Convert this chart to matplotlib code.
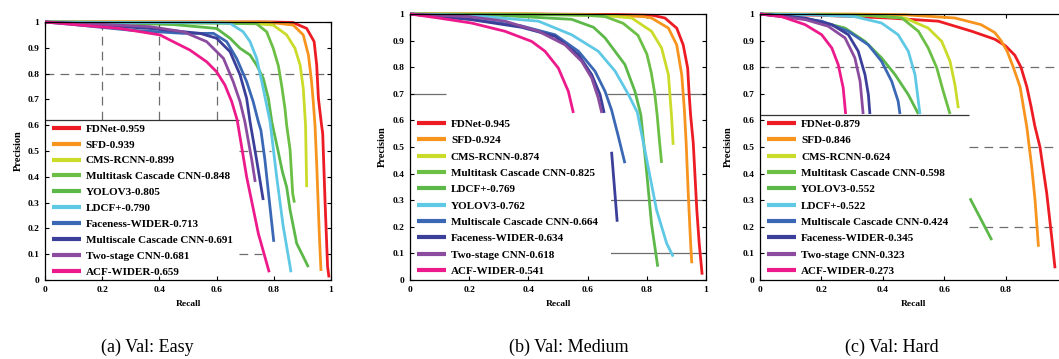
import numpy as np
import matplotlib
matplotlib.use('Agg')
import matplotlib.pyplot as plt
from matplotlib.patches import Rectangle

plt.rcParams['font.family'] = ['Liberation Serif', 'DejaVu Serif']
plt.rcParams['font.weight'] = 'bold'

# colour by rank in the legend (same for all three panels)
colors = ['#ed1c24', '#f7941d', '#cbdb2a', '#6cbf45', '#5cb848',
          '#5ec8e5', '#3b68b4', '#3b3f99', '#8b4b9f', '#ec1a8b']

# ---------------- (a) Val: Easy ----------------
easy_names = ['FDNet-0.959', 'SFD-0.939', 'CMS-RCNN-0.899', 'Multitask Cascade CNN-0.848',
              'YOLOV3-0.805', 'LDCF+-0.790', 'Faceness-WIDER-0.713',
              'Multiscale Cascade CNN-0.691', 'Two-stage CNN-0.681', 'ACF-WIDER-0.659']
easy_recall = [
    [0, 0.3, 0.6, 0.8, 0.867, 0.915, 0.941, 0.95, 0.956, 0.967, 0.971, 0.979, 0.988, 0.993],
    [0, 0.4, 0.7, 0.775, 0.868, 0.903, 0.921, 0.932, 0.938, 0.944, 0.950, 0.959, 0.965],
    [0, 0.3, 0.6, 0.72, 0.798, 0.845, 0.874, 0.892, 0.903, 0.911, 0.915],
    [0, 0.3, 0.6, 0.74, 0.775, 0.798, 0.816, 0.828, 0.839, 0.845, 0.857, 0.866, 0.872],
    [0, 0.2, 0.45, 0.60, 0.647, 0.682, 0.717, 0.74, 0.763, 0.781, 0.793, 0.815, 0.83, 0.845, 0.857, 0.88, 0.921],
    [0, 0.3, 0.577, 0.647, 0.693, 0.717, 0.74, 0.758, 0.775, 0.787, 0.81, 0.833, 0.857, 0.86],
    [0, 0.1, 0.3, 0.484, 0.589, 0.635, 0.67, 0.705, 0.728, 0.746, 0.755, 0.769, 0.785, 0.80],
    [0, 0.15, 0.367, 0.542, 0.60, 0.647, 0.682, 0.705, 0.717, 0.74, 0.763],
    [0, 0.216, 0.367, 0.484, 0.565, 0.624, 0.658, 0.682, 0.699, 0.723, 0.735],
    [0, 0.122, 0.262, 0.402, 0.437, 0.507, 0.565, 0.60, 0.629, 0.653, 0.672, 0.705, 0.746, 0.784],
]
easy_prec = [
    [1, 1, 1, 1, 0.998, 0.975, 0.924, 0.833, 0.704, 0.60, 0.568, 0.31, 0.052, 0.01],
    [1, 1, 1, 1, 0.988, 0.95, 0.872, 0.769, 0.691, 0.60, 0.45, 0.18, 0.035],
    [1, 1, 0.998, 0.995, 0.988, 0.95, 0.898, 0.833, 0.743, 0.60, 0.36],
    [1, 0.998, 0.995, 0.993, 0.962, 0.898, 0.83, 0.75, 0.665, 0.60, 0.504, 0.336, 0.30],
    [1, 0.998, 0.99, 0.975, 0.937, 0.898, 0.872, 0.833, 0.782, 0.704, 0.613, 0.50, 0.42, 0.36, 0.271, 0.142, 0.05],
    [1, 0.998, 0.998, 0.995, 0.962, 0.924, 0.859, 0.769, 0.678, 0.613, 0.40, 0.207, 0.052, 0.03],
    [1, 0.99, 0.968, 0.956, 0.956, 0.924, 0.859, 0.769, 0.691, 0.613, 0.58, 0.465, 0.30, 0.148],
    [1, 0.99, 0.975, 0.956, 0.937, 0.885, 0.795, 0.704, 0.613, 0.465, 0.31],
    [1, 0.99, 0.982, 0.962, 0.924, 0.859, 0.769, 0.691, 0.613, 0.465, 0.38],
    [1, 0.988, 0.975, 0.95, 0.93, 0.891, 0.846, 0.807, 0.756, 0.691, 0.62, 0.40, 0.18, 0.03],
]

# ---------------- (b) Val: Medium ----------------
medium_names = ['FDNet-0.945', 'SFD-0.924', 'CMS-RCNN-0.874', 'Multitask Cascade CNN-0.825',
                'LDCF+-0.769', 'YOLOV3-0.762', 'Multiscale Cascade CNN-0.664',
                'Faceness-WIDER-0.634', 'Two-stage CNN-0.618', 'ACF-WIDER-0.541']
medium_recall = [
    [0, 0.4, 0.7, 0.82, 0.861, 0.901, 0.923, 0.938, 0.943, 0.948, 0.957, 0.963, 0.969, 0.977, 0.987],
    [0, 0.4, 0.7, 0.79, 0.816, 0.873, 0.901, 0.918, 0.927, 0.933, 0.94, 0.948, 0.952],
    [0, 0.4, 0.65, 0.749, 0.816, 0.85, 0.873, 0.884, 0.889],
    [0, 0.4, 0.6, 0.66, 0.72, 0.77, 0.80, 0.815, 0.827, 0.835, 0.843, 0.85],
    [0, 0.3, 0.546, 0.62, 0.659, 0.726, 0.76, 0.78, 0.80, 0.816, 0.837],
    [0, 0.2, 0.434, 0.546, 0.636, 0.693, 0.738, 0.768, 0.80, 0.833, 0.867, 0.889],
    [0, 0.208, 0.377, 0.49, 0.569, 0.625, 0.659, 0.681, 0.704, 0.726],
    [0, 0.2, 0.377, 0.49, 0.569, 0.614, 0.642, 0.656, np.nan, 0.681, 0.70],
    [0, 0.2, 0.321, 0.434, 0.524, 0.58, 0.614, 0.636, 0.648],
    [0, 0.096, 0.208, 0.321, 0.411, 0.456, 0.501, 0.535, 0.552],
]
medium_prec = [
    [1, 1, 0.998, 0.995, 0.985, 0.947, 0.884, 0.797, 0.70, 0.62, 0.514, 0.388, 0.263, 0.138, 0.02],
    [1, 1, 0.995, 0.99, 0.985, 0.947, 0.884, 0.772, 0.64, 0.514, 0.326, 0.138, 0.063],
    [1, 1, 0.995, 0.985, 0.935, 0.872, 0.772, 0.609, 0.508],
    [1, 0.998, 0.995, 0.99, 0.965, 0.92, 0.85, 0.78, 0.70, 0.62, 0.52, 0.44],
    [1, 0.995, 0.98, 0.95, 0.91, 0.81, 0.709, 0.62, 0.40, 0.21, 0.05],
    [1, 0.995, 0.973, 0.922, 0.86, 0.785, 0.697, 0.63, 0.451, 0.263, 0.138, 0.088],
    [1, 0.98, 0.955, 0.922, 0.86, 0.785, 0.709, 0.639, 0.539, 0.439],
    [1, 0.98, 0.95, 0.916, 0.847, 0.772, 0.697, 0.628, np.nan, 0.482, 0.219],
    [1, 0.99, 0.973, 0.935, 0.884, 0.822, 0.759, 0.684, 0.628],
    [1, 0.985, 0.966, 0.935, 0.897, 0.86, 0.797, 0.709, 0.628],
]

# ---------------- (c) Val: Hard ----------------
hard_names = ['FDNet-0.879', 'SFD-0.846', 'CMS-RCNN-0.624', 'Multitask Cascade CNN-0.598',
              'YOLOV3-0.552', 'LDCF+-0.522', 'Multiscale Cascade CNN-0.424',
              'Faceness-WIDER-0.345', 'Two-stage CNN-0.323', 'ACF-WIDER-0.273']
hard_recall = [
    [0, 0.2, 0.418, 0.581, 0.69, 0.765, 0.80, 0.83, 0.85, 0.869, 0.883, 0.895, 0.912, 0.934, 0.95, 0.961],
    [0, 0.3, 0.472, 0.635, 0.72, 0.765, 0.785, 0.805, 0.825, 0.847, 0.869, 0.885, 0.896, 0.907],
    [0, 0.2, 0.35, 0.472, 0.548, 0.592, 0.619, 0.635, 0.646],
    [0, 0.2, 0.35, 0.462, 0.516, 0.548, 0.576, 0.597, 0.619],
    [0, 0.1, 0.2, 0.277, 0.342, 0.396, 0.44, 0.483, 0.516, np.nan, 0.684, 0.755],
    [0, 0.15, 0.309, 0.396, 0.45, 0.483, 0.505, 0.521],
    [0, 0.1, 0.201, 0.288, 0.353, 0.396, 0.429, 0.45, 0.456],
    [0, 0.147, 0.234, 0.288, 0.32, 0.342, 0.353, 0.358],
    [0, 0.147, 0.222, 0.277, 0.309, 0.326, 0.336],
    [0, 0.071, 0.147, 0.201, 0.234, 0.255, 0.271, 0.279],
]
hard_prec = [
    [1, 0.995, 0.985, 0.973, 0.935, 0.905, 0.88, 0.845, 0.80, 0.727, 0.652, 0.58, 0.50, 0.326, 0.163, 0.044],
    [1, 1, 0.997, 0.985, 0.96, 0.93, 0.90, 0.86, 0.80, 0.727, 0.576, 0.426, 0.30, 0.125],
    [1, 0.998, 0.995, 0.985, 0.947, 0.897, 0.822, 0.734, 0.646],
    [1, 0.998, 0.995, 0.985, 0.935, 0.872, 0.797, 0.709, 0.624],
    [1, 0.99, 0.97, 0.947, 0.897, 0.835, 0.772, 0.697, 0.624, np.nan, 0.307, 0.15],
    [1, 0.998, 0.99, 0.966, 0.922, 0.86, 0.772, 0.624],
    [1, 0.99, 0.973, 0.935, 0.884, 0.822, 0.747, 0.672, 0.624],
    [1, 0.985, 0.96, 0.922, 0.86, 0.772, 0.697, 0.624],
    [1, 0.979, 0.954, 0.91, 0.835, 0.747, 0.624],
    [1, 0.99, 0.96, 0.922, 0.872, 0.809, 0.722, 0.624],
]

captions = ['(a) Val: Easy', '(b) Val: Medium', '(c) Val: Hard']

W, H = 1059, 359
fig = plt.figure(figsize=(W / 100, H / 100), dpi=100)

# axes boxes in pixels: left, right(x=1), y of p=1, y of p=0
boxes = [(45, 331, 22, 280), (410, 706, 14, 280), (760, 1067, 14, 280)]


def panel(box, names, recalls, precs, box_top, top_line, spacing, grid_h, grid_v,
          dashed, xticks, ylab_off):
    l, r, t, b = box
    ax = fig.add_axes([l / W, 1 - b / H, (r - l) / W, (b - t) / H])
    ax.set_xlim(0, 1)
    ax.set_ylim(0, 1)

    gstyle = dict(color='#6e6e6e', lw=0.9, zorder=1)
    if dashed:
        gstyle['linestyle'] = (0, (7, 5))
    for y, x0, x1 in grid_h:
        ax.hlines(y, x0, x1, **gstyle)
    for x, y0, y1 in grid_v:
        ax.vlines(x, y0, y1, **gstyle)

    # white legend area hides the grid
    ax.add_patch(Rectangle((0, 0), 0.68, box_top, facecolor='white', edgecolor='none', zorder=1.5))
    if top_line:
        ax.hlines(box_top, 0, 0.68, color='#333333', lw=0.9, zorder=1.6)

    for i in range(len(names)):
        ax.plot(recalls[i], precs[i], color=colors[i], lw=2.0, label=names[i],
                clip_on=False, zorder=2, solid_capstyle='butt')

    leg = ax.legend(loc='upper left', bbox_to_anchor=(0.024, 0.605), frameon=False,
                    prop=dict(weight='bold', size=8), handlelength=2.6, handletextpad=0.45,
                    labelspacing=spacing, borderpad=0, borderaxespad=0)
    leg.set_zorder(6)
    for ln in leg.get_lines():
        ln.set_linewidth(3.0)

    ax.set_xticks(xticks)
    ax.set_xticklabels(['%g' % v for v in xticks])
    ax.set_yticks(np.arange(0, 1.01, 0.1))
    ax.set_yticklabels(['0', '0.1', '0.2', '0.3', '0.4', '0.5', '0.6', '0.7', '0.8', '0.9', '1'])
    ax.tick_params(direction='in', top=True, right=True, length=3, width=0.8,
                   labelsize=6.8, pad=4)
    for s in ax.spines.values():
        s.set_linewidth(0.9)
    ax.set_xlabel('Recall', fontsize=6.8, fontweight='bold')
    ax.set_ylabel('Precision', fontsize=7.5, fontweight='bold')
    ax.xaxis.set_label_coords(0.5, -(300 - b) / (b - t))
    ax.yaxis.set_label_coords(ylab_off / (r - l), 0.5)
    return ax


panel(boxes[0], easy_names, easy_recall, easy_prec, 0.62, True, 0.55,
      [(0.8, 0, 1), (0.5, 0.68, 0.79), (0.1, 0.68, 0.76)],
      [(0.2, 0.62, 1), (0.4, 0.62, 1), (0.6, 0.62, 1)], True,
      [0, 0.2, 0.4, 0.6, 0.8, 1], -22)
panel(boxes[1], medium_names, medium_recall, medium_prec, 0.635, False, 0.59,
      [(0.7, 0, 0.12), (0.7, 0.665, 1), (0.3, 0.675, 1), (0.1, 0.675, 1)],
      [], False, [0, 0.2, 0.4, 0.6, 0.8, 1], -23)
panel(boxes[2], hard_names, hard_recall, hard_prec, 0.62, True, 0.59,
      [(0.8, 0, 1), (0.5, 0.68, 1), (0.2, 0.68, 1)],
      [], True, [0, 0.2, 0.4, 0.6, 0.8], -27)

for cx, txt in zip([147, 569, 892], captions):
    fig.text(cx / W, 1 - 347 / H, txt, ha='center', va='center', fontsize=13,
             fontweight='normal')

fig.savefig('out.png', dpi=100)
